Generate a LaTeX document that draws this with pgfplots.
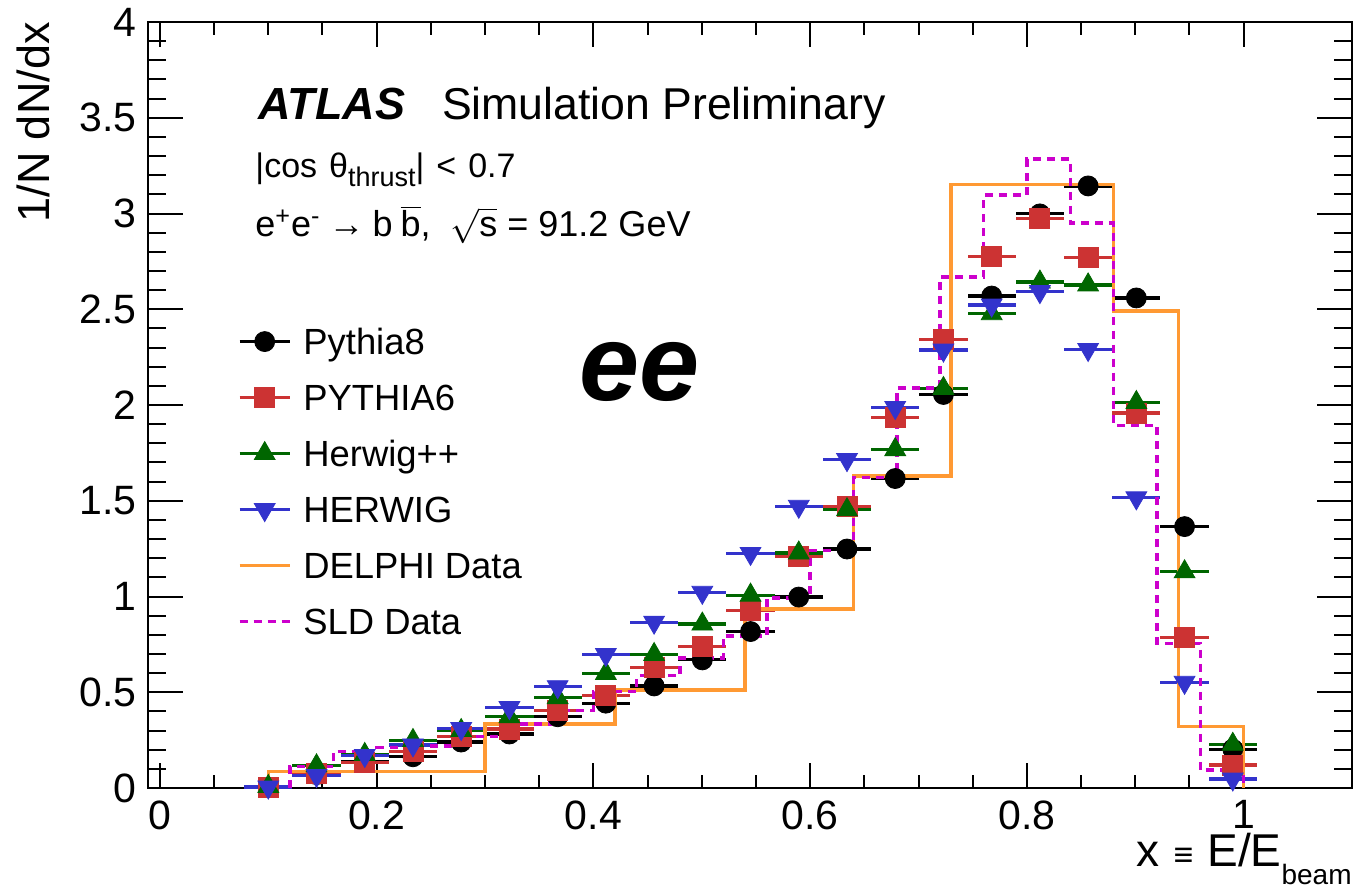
\documentclass[border=0pt]{standalone}
\usepackage{fontspec}
\setmainfont{Liberation Sans}
\usepackage{pgfplots}
\usepackage{pgfplotstable}
\pgfplotsset{compat=1.18}

\definecolor{p6red}{RGB}{204,51,51}
\definecolor{hppgreen}{RGB}{0,102,0}
\definecolor{hwblue}{RGB}{51,51,204}
\definecolor{delphiorange}{RGB}{255,153,51}
\definecolor{sldmagenta}{RGB}{204,0,204}

% generator predictions: bin centre, Pythia8, PYTHIA6, Herwig++, HERWIG
\pgfplotstableread{
x      p8    p6    hpp   hw
0.1000 0.005 0.005 0.008 0.005
0.1445 0.070 0.075 0.116 0.065
0.1890 0.140 0.133 0.175 0.170
0.2335 0.163 0.190 0.248 0.225
0.2780 0.240 0.268 0.300 0.310
0.3225 0.282 0.308 0.372 0.420
0.3670 0.372 0.405 0.472 0.529
0.4115 0.443 0.482 0.598 0.697
0.4560 0.533 0.630 0.697 0.866
0.5005 0.669 0.739 0.856 1.022
0.5450 0.817 0.925 1.007 1.225
0.5895 0.997 1.209 1.227 1.471
0.6340 1.248 1.468 1.453 1.715
0.6785 1.616 1.933 1.767 1.987
0.7230 2.055 2.343 2.086 2.287
0.7675 2.569 2.775 2.477 2.522
0.8120 2.998 2.974 2.642 2.592
0.8565 3.144 2.770 2.627 2.290
0.9010 2.559 1.958 2.013 1.515
0.9455 1.365 0.788 1.129 0.552
0.9900 0.203 0.120 0.228 0.047
}\mcdata

% DELPHI histogram: left bin edge and content (closed to zero at both ends)
\pgfplotstableread{
x    y
0.10 0
0.10 0.085
0.30 0.334
0.42 0.512
0.54 0.934
0.64 1.630
0.73 3.153
0.88 2.491
0.94 0.320
1.00 0.320
1.00 0
}\delphi

% SLD histogram: left bin edge and content
\pgfplotstableread{
x    y
0.12 0
0.12 0.111
0.16 0.190
0.20 0.210
0.24 0.220
0.28 0.270
0.32 0.335
0.36 0.405
0.40 0.503
0.44 0.587
0.48 0.678
0.52 0.794
0.56 0.992
0.60 1.240
0.64 1.620
0.68 2.088
0.72 2.668
0.76 3.097
0.80 3.284
0.84 2.950
0.88 1.894
0.92 0.756
0.96 0.094
1.00 0.094
1.00 0
}\sld

\pgfplotsset{
  mc/.style={only marks,
    error bars/x dir=both, error bars/x fixed=0.02225,
    error bars/error mark=none,
    error bars/error bar style={line width=1.6pt, solid},
    legend image code/.code={
      \draw[line width=1.6pt, ##1] (0pt,0pt) -- (25pt,0pt);
      \draw[##1] plot coordinates {(12.5pt,0pt)};
    }},
  hist/.style={const plot mark left, mark=none, line width=1.7pt, line join=miter,
    legend image code/.code={\draw[##1] (0pt,0pt) -- (25pt,0pt);}},
}

\begin{document}
\begin{tikzpicture}
\begin{axis}[
  at={(74pt,51pt)}, anchor=south west,
  scale only axis, width=602pt, height=383pt,
  xmin=-0.011, xmax=1.1, ymin=0, ymax=4,
  clip=false,
  xtick={0,0.2,0.4,0.6,0.8,1},
  xticklabels={0,0.2,0.4,0.6,0.8,1},
  ytick={0,0.5,1,1.5,2,2.5,3,3.5,4},
  yticklabels={0,0.5,1,1.5,2,2.5,3,3.5,4},
  minor x tick num=3, minor y tick num=4,
  tick align=inside, tick pos=both,
  axis line style={line width=1.3pt},
  every tick/.style={black, line width=1pt},
  xtick style={/pgfplots/major tick length=12.5pt, /pgfplots/minor tick length=6.3pt},
  ytick style={/pgfplots/major tick length=17.5pt, /pgfplots/minor tick length=8.8pt},
  tick label style={font=\fontsize{20.5}{24}\selectfont},
  xticklabel style={inner sep=0pt, yshift=-6pt},
  yticklabel style={inner sep=0pt, xshift=-5.5pt},
  xlabel={x\hspace{7pt}{\fontsize{17}{20}\selectfont ≡}\hspace{7pt}E/E\raisebox{-9pt}{\fontsize{14}{16}\selectfont beam}},
  xlabel style={at={(1,0)}, anchor=base east, yshift=-39pt, inner sep=0pt,
    font=\fontsize{23}{26}\selectfont},
  ylabel={1/N dN/dx},
  ylabel style={at={(-0.0814,1)}, anchor=base east, inner sep=0pt,
    font=\fontsize{22.5}{26}\selectfont},
  legend cell align=left,
  legend style={at={(0.07475,0.5999)}, anchor=north west, draw=none, fill=none,
    inner sep=0pt, outer sep=0pt, row sep=14.9pt, column sep=6pt,
    font=\fontsize{18.2}{22}\selectfont,
    nodes={inner sep=0pt, text height=13.1pt, text depth=0pt}},
]

\addplot[mc, black, mark=*, mark size=5pt, mark options={solid, line width=0.4pt}]
  table[x=x, y=p8] {\mcdata};
\addlegendentry{Pythia8}
\addplot[mc, p6red, mark=square*, mark size=5pt, mark options={solid, line width=0.4pt}]
  table[x=x, y=p6] {\mcdata};
\addlegendentry{PYTHIA6}
\addplot[mc, hppgreen, mark=triangle*, mark size=6pt, mark options={solid, line width=0.4pt}]
  table[x=x, y=hpp] {\mcdata};
\addlegendentry{Herwig++}
\addplot[mc, hwblue, mark=triangle*, mark size=6pt, mark options={solid, line width=0.4pt, rotate=180}]
  table[x=x, y=hw] {\mcdata};
\addlegendentry{HERWIG}

\addplot[hist, delphiorange] table[x=x, y=y] {\delphi};
\addlegendentry{DELPHI Data}
\addplot[hist, sldmagenta, dash pattern=on 4pt off 3pt] table[x=x, y=y] {\sld};
\addlegendentry{SLD Data}

\node[anchor=base west, inner sep=0pt, font=\fontsize{22.5}{26}\selectfont\bfseries\itshape]
  at (rel axis cs:0.0914,0.8721) {ATLAS};
\node[anchor=base west, inner sep=0pt, font=\fontsize{22.3}{26}\selectfont]
  at (rel axis cs:0.2439,0.8721) {Simulation Preliminary};
\node[anchor=base west, inner sep=0pt, font=\fontsize{17}{18}\selectfont]
  at (rel axis cs:0.0889,0.7973)
  {|cos\hspace{6pt}θ\raisebox{-4.5pt}{\fontsize{13.5}{15}\selectfont thrust}|\hspace{6pt}<\hspace{6pt}0.7};
\node[anchor=base west, inner sep=0pt, font=\fontsize{18}{22}\selectfont]
  at (rel axis cs:0.0889,0.7197)
  {e\textsuperscript{+}e\textsuperscript{-}\hspace{4pt}→\hspace{4pt}b\hspace{4pt}$\overline{\mbox{b}}$,\hspace{10pt}$\sqrt{\mbox{s}}$ = 91.2 GeV};
\node[anchor=base, inner sep=0pt, font=\fontsize{54}{58}\selectfont\bfseries\itshape]
  at (rel axis cs:0.4086,0.5065) {ee};
\end{axis}
\pgfresetboundingbox
\path[use as bounding box] (0pt,0pt) rectangle (678pt,445pt);
\end{tikzpicture}
\end{document}
